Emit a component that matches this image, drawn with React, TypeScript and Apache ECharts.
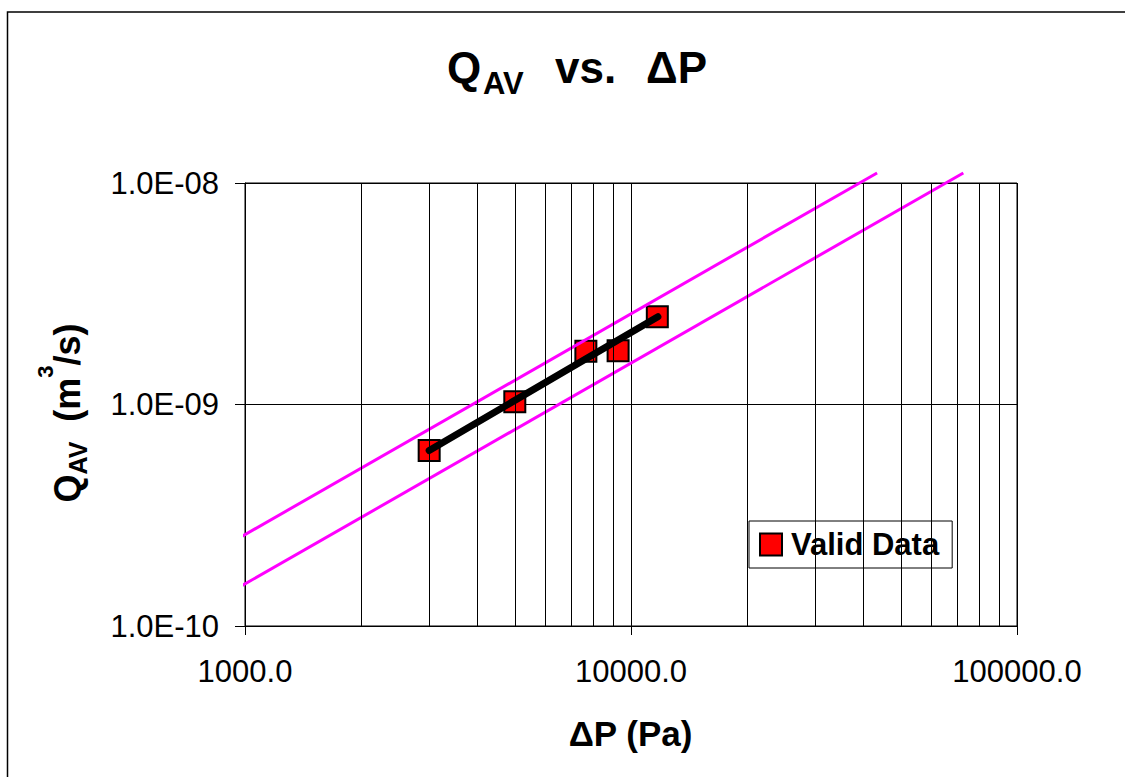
import React, { useEffect, useRef } from 'react';
import * as echarts from 'echarts';

// ---- data ----
const validDP = [3000, 5000, 7640, 9260, 11700];
const validQ = [6.2e-10, 1.03e-9, 1.74e-9, 1.75e-9, 2.49e-9];
const fitDP = [3000, 11740];
const fitQ = [6.2e-10, 2.49e-9];
const upperDP = [936, 43400];
const upperQ = [2.42e-10, 1.11e-8];
const lowerDP = [936, 72600];
const lowerQ = [1.45e-10, 1.11e-8];
const minorGridDP = [2000, 3000, 4000, 5000, 6000, 7000, 8000, 9000, 20000, 30000, 40000, 50000, 60000, 70000, 80000, 90000];
const xMin = 1000;
const xMax = 100000;
const yMin = 1e-10;
const yMax = 1e-8;

const FONT = '"Liberation Sans", Arial, Helvetica, sans-serif';

const zip = (xs: number[], ys: number[]) => xs.map((x, i) => [x, ys[i]]);

function sciLabel(v: number): string {
  const e = Math.round(Math.log10(v));
  const m = v / Math.pow(10, e);
  return m.toFixed(1) + 'E' + (e < 0 ? '-' : '+') + String(Math.abs(e)).padStart(2, '0');
}

function measure(text: string, font: string): number {
  const c = document.createElement('canvas').getContext('2d');
  if (!c) return text.length * 15;
  c.font = font;
  return c.measureText(text).width;
}

function txt(text: string, x: number, y: number, size: number, extra: any = {}) {
  return {
    type: 'text',
    x,
    y,
    silent: true,
    ...extra,
    style: {
      text,
      font: `bold ${size}px ${FONT}`,
      fill: '#000',
      textAlign: 'left',
      align: 'left',
      textVerticalAlign: 'middle',
      verticalAlign: 'middle',
    },
  };
}

export default function App() {
  const ref = useRef<HTMLDivElement>(null);

  useEffect(() => {
    document.body.style.margin = '0';
    if (!ref.current) return;
    const chart = echarts.init(ref.current, undefined, { renderer: 'svg' });

    // Y axis title pieces laid out bottom-to-top
    const mainF = 36, subF = 25, supF = 22;
    const pieces = [
      { t: 'Q', s: mainF, col: 67.5 },
      { t: 'AV', s: subF, col: 78.3 },
      { t: '  (m', s: mainF, col: 67.5 },
      { t: '3', s: supF, col: 45.4 },
      { t: '/s)', s: mainF, col: 67.5 },
    ];
    const widths = pieces.map((p) => measure(p.t, `bold ${p.s}px ${FONT}`));
    const total = widths.reduce((a, b) => a + b, 0);
    let cur = 413 + total / 2;
    const yTitle: any[] = [];
    pieces.forEach((p, i) => {
      yTitle.push(txt(p.t, p.col, cur, p.s, { rotation: Math.PI / 2 }));
      cur -= widths[i];
    });

    const option: any = {
      animation: false,
      backgroundColor: '#fff',
      textStyle: { fontFamily: FONT },
      grid: {
        left: 245,
        top: 183,
        right: 108,
        bottom: 151,
        show: true,
        borderColor: '#000',
        borderWidth: 1,
        backgroundColor: 'transparent',
      },
      legend: {
        data: ['Valid Data'],
        left: 749,
        top: 521,
        orient: 'horizontal',
        itemWidth: 22,
        itemHeight: 22,
        itemGap: 0,
        padding: [8, 13, 8, 10],
        borderColor: '#000',
        borderWidth: 1,
        borderRadius: 0,
        backgroundColor: '#fff',
        icon: 'rect',
        selectedMode: false,
        textStyle: { fontSize: 31, fontWeight: 'bold', color: '#000', fontFamily: FONT, padding: [0, 0, 0, 4] },
      },
      xAxis: {
        type: 'log',
        logBase: 10,
        min: xMin,
        max: xMax,
        axisLine: { show: true, lineStyle: { color: '#000', width: 1 } },
        axisTick: { show: true, inside: false, length: 9, lineStyle: { color: '#000', width: 1 } },
        axisLabel: {
          show: true,
          margin: 30,
          fontSize: 31,
          color: '#000',
          fontFamily: FONT,
          formatter: (v: number) => v.toFixed(1),
        },
        splitLine: { show: true, lineStyle: { color: '#000', width: 1 } },
      },
      yAxis: {
        type: 'log',
        logBase: 10,
        min: yMin,
        max: yMax,
        axisLine: { show: true, lineStyle: { color: '#000', width: 1 } },
        axisTick: { show: true, inside: false, length: 10, lineStyle: { color: '#000', width: 1 } },
        axisLabel: {
          show: true,
          margin: 26,
          fontSize: 31,
          color: '#000',
          fontFamily: FONT,
          formatter: (v: number) => sciLabel(v),
        },
        splitLine: { show: true, lineStyle: { color: '#000', width: 1 } },
      },
      series: [
        {
          name: 'grid',
          type: 'line',
          data: [],
          silent: true,
          z: 1,
          markLine: {
            silent: true,
            symbol: ['none', 'none'],
            label: { show: false },
            lineStyle: { color: '#000', width: 1, type: 'solid' },
            emphasis: { disabled: true },
            data: minorGridDP.map((v) => ({ xAxis: v })),
          },
        },
        {
          name: 'Valid Data',
          type: 'scatter',
          data: zip(validDP, validQ),
          symbol: 'rect',
          symbolSize: 21,
          itemStyle: { color: '#FF0000', borderColor: '#000', borderWidth: 2, opacity: 1 },
          emphasis: { disabled: true },
          z: 3,
        },
        {
          name: 'upper',
          type: 'line',
          data: zip(upperDP, upperQ),
          symbol: 'none',
          clip: false,
          lineStyle: { color: '#FF00FF', width: 3 },
          emphasis: { disabled: true },
          silent: true,
          z: 4,
        },
        {
          name: 'lower',
          type: 'line',
          data: zip(lowerDP, lowerQ),
          symbol: 'none',
          clip: false,
          lineStyle: { color: '#FF00FF', width: 3 },
          emphasis: { disabled: true },
          silent: true,
          z: 4,
        },
        {
          name: 'fit',
          type: 'line',
          data: zip(fitDP, fitQ),
          symbol: 'none',
          lineStyle: { color: '#000', width: 7, cap: 'round' },
          emphasis: { disabled: true },
          silent: true,
          z: 5,
        },
      ],
      graphic: [
        {
          type: 'rect',
          silent: true,
          shape: { x: 7.5, y: 12, width: 1300, height: 900 },
          style: { fill: 'none', stroke: '#000', lineWidth: 1.5 },
          z: 0,
        },
        txt('Q', 447, 67.8, 44),
        txt('AV', 483, 83.3, 31),
        txt('vs.', 555, 67.8, 44),
        txt('\u0394P', 646, 67.8, 44),
        {
          type: 'text',
          x: 630.5,
          y: 733.4,
          silent: true,
          style: {
            text: '\u0394P (Pa)',
            font: `bold 35px ${FONT}`,
            fill: '#000',
            textAlign: 'center',
            align: 'center',
            textVerticalAlign: 'middle',
            verticalAlign: 'middle',
          },
        },
        ...yTitle,
      ],
    };

    chart.setOption(option);
    return () => {
      chart.dispose();
    };
  }, []);

  return <div ref={ref} style={{ width: 1125, height: 777 }} />;
}
